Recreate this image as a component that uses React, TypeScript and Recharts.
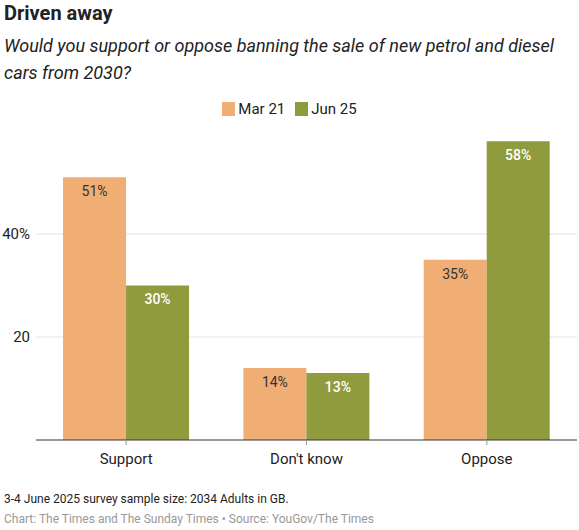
import React from "react";
import { BarChart, Bar, XAxis, YAxis, CartesianGrid, LabelList } from "recharts";

const categories = ["Support", "Don't know", "Oppose"];
const mar21 = [51, 14, 35];
const jun25 = [30, 13, 58];
const yTicks = [20, 40];

const ORANGE = "#F0AD74";
const GREEN = "#8F9B3D";

const data = categories.map((name, i) => ({ name, mar21: mar21[i], jun25: jun25[i] }));

const LegendBox = () => (
  <div style={{ display: "flex", justifyContent: "center", alignItems: "center", fontSize: 15, color: "#222" }}>
    <span style={{ width: 13, height: 14, background: ORANGE, display: "inline-block", marginRight: 3 }} />
    <span style={{ marginRight: 10 }}>Mar 21</span>
    <span style={{ width: 13, height: 14, background: GREEN, display: "inline-block", marginRight: 3 }} />
    <span>Jun 25</span>
  </div>
);

export default function App() {
  return (
    <div style={{ position: "relative", width: 579, height: 530, fontFamily: "Roboto, sans-serif", background: "#fff" }}>
      <style>{"body{margin:0}"}</style>
      <div style={{ position: "absolute", left: 4, top: 1, fontSize: 20, fontWeight: 700, color: "#222" }}>
        Driven away
      </div>
      <div style={{ position: "absolute", left: 4, top: 32, width: 570, fontSize: 18, fontStyle: "italic", lineHeight: "27px", color: "#222" }}>
        Would you support or oppose banning the sale of new petrol and diesel cars from 2030?
      </div>
      <div style={{ position: "absolute", left: 0, top: 100, width: 579 }}>
        <LegendBox />
      </div>
      <div style={{ position: "absolute", left: 0, top: 120 }}>
        <BarChart
          width={579}
          height={360}
          data={data}
          margin={{ top: 11, right: 2, bottom: 0, left: 0 }}
          barCategoryGap="15%"
          barGap={0}
        >
          <CartesianGrid vertical={false} horizontalValues={yTicks} stroke="#e4e4e4" />
          <XAxis
            dataKey="name"
            height={40}
            axisLine={{ stroke: "#333" }}
            tickLine={{ stroke: "#999" }}
            tickSize={5}
            tick={{ fontSize: 15, fill: "#222" }}
            tickMargin={8}
          />
          <YAxis
            width={36}
            domain={[0, 60]}
            ticks={yTicks}
            axisLine={false}
            tickLine={false}
            tickSize={0}
            tick={{ fontSize: 15, fill: "#222" }}
            tickFormatter={(v) => (v === 40 ? "40%" : String(v))}
            tickMargin={6}
          />
          <Bar dataKey="mar21" fill={ORANGE} isAnimationActive={false}>
            <LabelList
              dataKey="mar21"
              position="insideTop"
              offset={9}
              formatter={(v) => `${v}%`}
              style={{ fontSize: 14, fill: "#333", fontFamily: "Roboto, sans-serif" }}
            />
          </Bar>
          <Bar dataKey="jun25" fill={GREEN} isAnimationActive={false}>
            <LabelList
              dataKey="jun25"
              position="insideTop"
              offset={9}
              formatter={(v) => `${v}%`}
              style={{ fontSize: 14, fill: "#fff", fontWeight: 500, fontFamily: "Roboto, sans-serif" }}
            />
          </Bar>
        </BarChart>
      </div>
      <div style={{ position: "absolute", left: 4, top: 492, fontSize: 12, color: "#222" }}>
        3-4 June 2025 survey sample size: 2034 Adults in GB.
      </div>
      <div style={{ position: "absolute", left: 4, top: 512, fontSize: 12, color: "#999" }}>
        Chart: The Times and The Sunday Times • Source: YouGov/The Times
      </div>
    </div>
  );
}
